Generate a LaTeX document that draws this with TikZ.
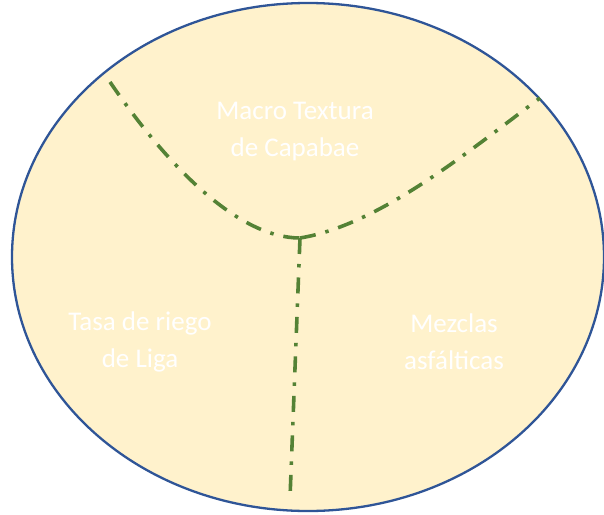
\documentclass[tikz,border=0pt]{standalone}
\usepackage{fontspec}
\setmainfont{Carlito}
\definecolor{fillY}{HTML}{FFF2CC}
\definecolor{edgeB}{HTML}{2F5597}
\definecolor{lineG}{HTML}{548235}
\begin{document}
\begin{tikzpicture}[x=1pt,y=-1pt,
  divider/.style={draw=lineG,line width=3.6pt,dash pattern=on 16pt off 10pt on 3.5pt off 10pt},
  label/.style={text=white,font=\fontsize{27}{37}\selectfont,align=center,inner sep=0pt}]
\useasboundingbox (0,0) rectangle (604,514);
\draw[fill=fillY,draw=edgeB,line width=2.3pt] (308,257) ellipse [x radius=296,y radius=254];
\coordinate (c) at (300,238);
\coordinate (a) at (110,82);
\coordinate (b) at (540,98);
\coordinate (d) at (290,498);
\draw[divider] (a) .. controls (170,170) and (240,238) .. (c);
\draw[divider] (c) .. controls (380,225) and (470,150) .. (b);
\draw[divider] (c) -- (d);
\node[label] (t1) at (295,132) {Macro Textura\\de Capabae};
\node[label] (t2) at (140,342) {Tasa de riego\\de Liga};
\node[label] (t3) at (454,342) {Mezclas\\asfálticas};
\end{tikzpicture}
\end{document}
